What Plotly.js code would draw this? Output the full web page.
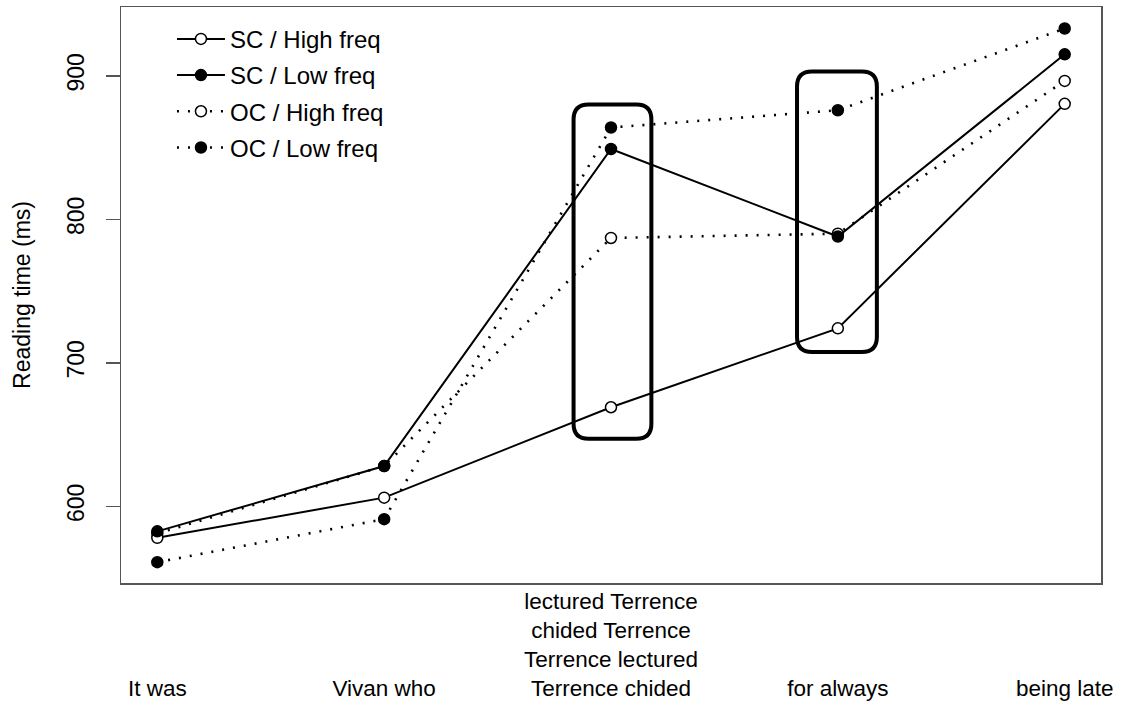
<!DOCTYPE html>
<html>
<head>
<meta charset="utf-8">
<script src="https://cdn.plot.ly/plotly-3.0.1.min.js"></script>
<style>
  html, body { margin: 0; padding: 0; background: #fff; }
  #chart { width: 1121px; height: 702px; }
</style>
</head>
<body>
<div id="chart"></div>
<script>
// ---- data ----
const positions = [1, 2, 3, 4, 5];
const regionLabels = [
  '<br><br><br>It was',
  '<br><br><br>Vivan who',
  'lectured Terrence<br>chided Terrence<br>Terrence lectured<br>Terrence chided',
  '<br><br><br>for always',
  '<br><br><br>being late'
];
const scHigh = [578, 606, 669, 724, 880.5];
const scLow  = [582.5, 628, 849, 788, 915];
const ocHigh = [581, 628, 787, 790, 896.5];
const ocLow  = [561, 591, 864, 876, 933];
const yTicks = [600, 700, 800, 900];

// highlight boxes (data units)
const boxX0 = [2.835, 3.82];
const boxX1 = [3.178, 4.172];
const boxY0 = [647, 707.5];
const boxY1 = [880, 903];

// ---- layout constants ----
const W = 1121, H = 702;
const M = {l: 121, r: 20, t: 7, b: 119};
const xRange = [0.84, 5.16];
const yRange = [546.5, 948];
const pxX = (W - M.l - M.r) / (xRange[1] - xRange[0]);
const pxY = (H - M.t - M.b) / (yRange[1] - yRange[0]);

function rrect(x0, x1, y0, y1, r) {
  const rx = r / pxX, ry = r / pxY;
  return `M${x0 + rx},${y1} L${x1 - rx},${y1} Q${x1},${y1} ${x1},${y1 - ry} ` +
         `L${x1},${y0 + ry} Q${x1},${y0} ${x1 - rx},${y0} L${x0 + rx},${y0} ` +
         `Q${x0},${y0} ${x0},${y0 + ry} L${x0},${y1 - ry} Q${x0},${y1} ${x0 + rx},${y1} Z`;
}

const FONT = '"Liberation Sans", Arial, Helvetica, sans-serif';
const dotted = '2px,9px';

function tr(name, y, filled, dash, rank) {
  return {
    x: positions, y: y, name: name, type: 'scatter', mode: 'lines+markers',
    legendrank: rank, legendgroup: 'g' + rank,
    line: {color: '#000', width: dash === 'solid' ? 2 : 2.6, dash: dash},
    marker: {symbol: 'circle', size: 11, color: filled ? '#000' : '#fff',
             line: {color: '#000', width: 1.5}}
  };
}

const data = [
  tr('OC / High freq', ocHigh, false, dotted, 3),
  tr('OC / Low freq', ocLow, true, dotted, 4),
  tr('SC / High freq', scHigh, false, 'solid', 1),
  tr('SC / Low freq', scLow, true, 'solid', 2)
];

const shapes = boxX0.map((x0, i) => ({
  type: 'path', xref: 'x', yref: 'y',
  path: rrect(x0, boxX1[i], boxY0[i], boxY1[i], 15),
  line: {color: '#000', width: 4}
}));

const layout = {
  width: W, height: H,
  margin: M,
  paper_bgcolor: '#fff', plot_bgcolor: '#fff',
  font: {family: FONT, size: 23, color: '#000'},
  showlegend: true,
  legend: {
    x: 0.052, y: 0.983, xanchor: 'left', yanchor: 'top',
    bgcolor: 'rgba(0,0,0,0)', borderwidth: 0,
    font: {family: FONT, size: 24, color: '#000'},
    traceorder: 'grouped', tracegroupgap: 2, itemwidth: 48
  },
  xaxis: {
    range: xRange, tickmode: 'array', tickvals: positions, ticktext: regionLabels,
    showgrid: false, zeroline: false, showline: true, mirror: true,
    linecolor: '#555', linewidth: 1.5, ticks: '', ticklabelstandoff: -3,
    tickfont: {family: FONT, size: 22.5, color: '#000'}
  },
  yaxis: {
    range: yRange, tickmode: 'array', tickvals: yTicks,
    showgrid: false, zeroline: false, showline: true, mirror: true,
    linecolor: '#555', linewidth: 1.5, ticks: 'outside', ticklen: 14,
    tickcolor: '#555', tickwidth: 1.5, tickangle: -90, ticklabelstandoff: 12,
    tickfont: {family: FONT, size: 23, color: '#000'},
    title: {text: 'Reading time (ms)', font: {family: FONT, size: 23, color: '#000'}, standoff: 26}
  },
  shapes: shapes
};

Plotly.newPlot('chart', data, layout, {displayModeBar: false, staticPlot: true});
</script>
</body>
</html>
